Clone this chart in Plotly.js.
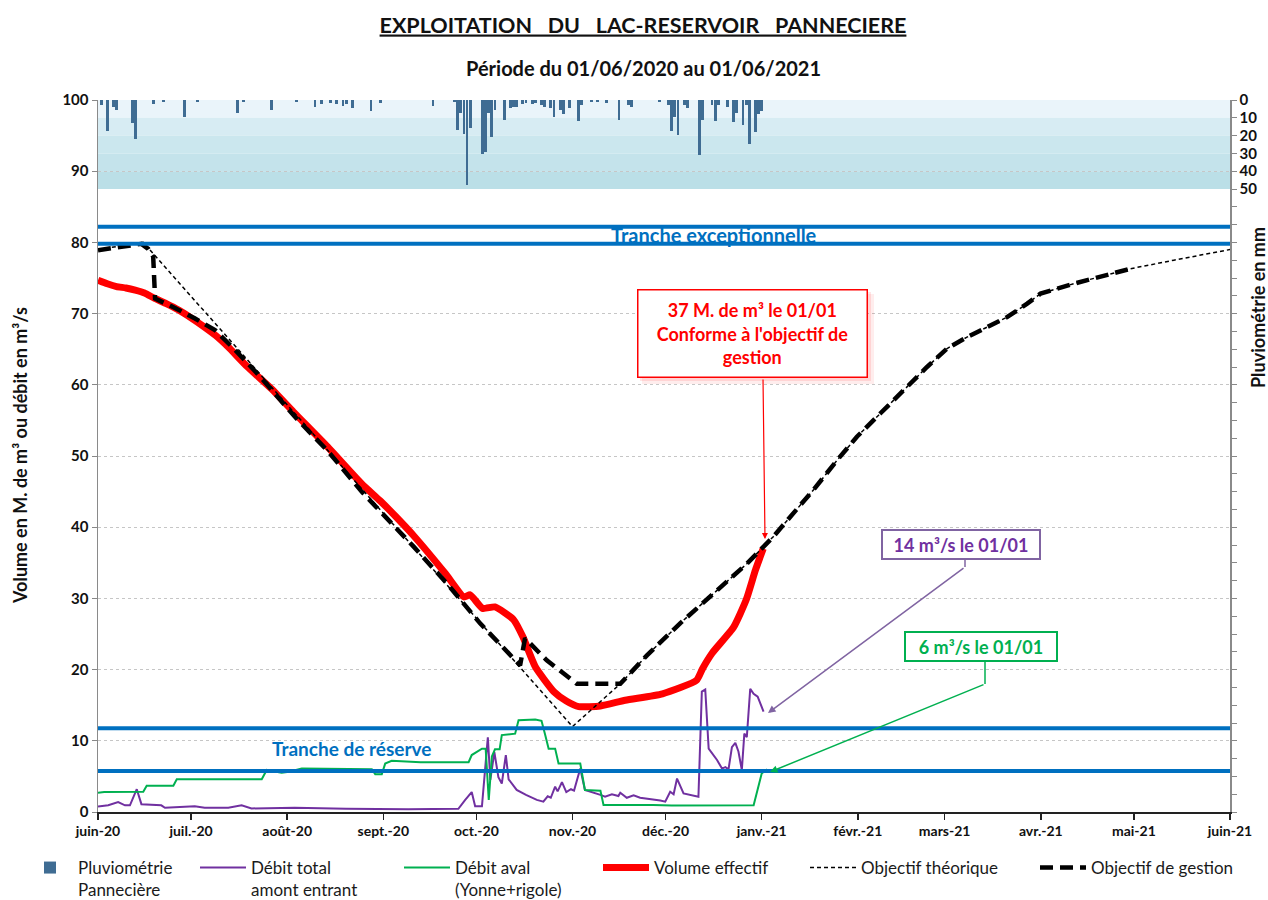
<!DOCTYPE html>
<html>
<head>
<meta charset="utf-8">
<script src="https://cdn.plot.ly/plotly-3.0.1.min.js"></script>
<style>html,body{margin:0;padding:0;background:#fff;}#chart{width:1268px;height:900px;}</style>
</head>
<body>
<div id="chart"></div>
<script>
// ---------- DATA (x = days since 01/06/2020) ----------
const monthTickDays = [0,30,61,92,122,153,183,214,245,273,304,334,365];
const monthLabels = ['juin-20','juil.-20','août-20','sept.-20','oct.-20','nov.-20','déc.-20','janv.-21','févr.-21','mars-21','avr.-21','mai-21','juin-21'];

const rainDays = [1,3,5,6,11,12,18,21,28,32,45,47,56,64,70,72,75,77,79,80,82,88,91,108,
  115,116,117,118,119,120,124,125,126,127,128,131,133,134,135,137,138,140,141,
  143,144,146,147,149,150,152,155,156,159,161,164,168,171,172,181,
  184,185,186,187,189,190,194,195,198,199,200,203,205,206,208,209,210,212,213,214];
const rainMm = [3,17.5,4,5.6,13,22,2,1,9.4,1,7.5,1,5.6,1,3.8,2,1.5,2,3.4,2,4.7,6,1.5,3.4,
  1,17,7.5,19,48,16,30.5,29,7.5,20.7,5.6,11.3,4.7,3.8,3.8,2,1.5,2.5,1.5,
  2.8,3.8,4.7,9.8,5.6,8,4.7,11.7,2.8,1,1,1.5,11.3,2.8,3.8,1,
  2.8,17.3,9.4,19.8,2.8,4.7,31,11.3,2.8,11.7,2.8,3.8,12.2,7.5,14,2.8,24.5,17.8,8,6];

const inflowDays = [0,3.3,6.5,8.7,10.3,12.5,14,20.4,21.6,29,31.2,34.4,42,46.3,49.5,63.4,80,100,116.2,
  118.4,120.5,121.6,123.8,125.7,126.5,127.8,129.1,130.2,131.5,132.4,135,138,141.5,143.6,145,146,
  147.4,148.2,149.6,151,152.5,153.5,155.5,157,160.3,162,163.5,165.7,167.8,168.4,170.5,172.7,174.8,
  177,181.3,182.9,184.5,185.6,186.7,188.8,189.9,193.6,194.7,195.8,196.9,199.6,201.2,202.3,203.3,
  204.4,205.5,206.5,207.6,208.4,209.2,210.3,211.4,212.7,214.6];
const inflowVal = [0.76,0.94,1.4,0.94,0.94,3.2,1.1,0.94,0.6,0.8,0.8,0.6,0.6,0.94,0.5,0.6,0.45,0.4,0.45,
  1.7,2.8,0.8,0.8,10.5,4.5,8.4,4.9,4.0,8.0,4.6,3.1,2.4,1.7,1.45,2.2,2.0,
  3.55,2.9,4.2,2.8,3.2,3.0,6.1,3.1,2.7,2.4,2.15,2.5,2.25,2.7,2.0,2.35,2.0,
  1.9,1.6,1.45,2.85,2.5,4.7,2.6,2.5,2.15,16.9,17.2,8.9,7.3,6.1,6.3,6.0,
  9.1,9.7,8.5,5.9,11.0,10.5,17.3,16.6,16.2,14.1];

const outflowDays = [0,2,14.6,15.7,24.3,25.4,52.8,54.4,59.2,61,65.7,88.3,89.4,91.5,92.6,94.7,104,119.5,
  120.5,123.8,125,126,127,128,129.5,130.2,134.5,135.6,141,143,144.2,145.3,147.4,148.5,155.5,157,
  162,163,179,185,211.4,214,215.7];
const outflowVal = [2.7,2.8,2.85,3.7,3.7,4.6,4.6,5.9,5.5,5.6,6.1,6.0,5.3,5.3,6.8,7.2,7.0,7.0,
  8.0,8.9,8.9,1.7,7.8,8.8,8.8,10.8,11.0,12.9,13.0,12.8,10.8,8.9,8.9,6.8,6.8,3.1,
  3.0,1.0,1.0,0.9,0.95,5.4,6.0];

const volumeDays = [0,3,6,9,12,15,18,22,26,30,34,38,42,48,56,63,74,85,91,96,102,112,118,120,124,128,134,137,141,147,
  151,155,162,170,182,193,195,198,205,209,212,214.5];
const volumeVal = [74.7,74.2,73.8,73.6,73.3,72.9,72.2,71.4,70.5,69.4,68.2,66.9,65.3,62.6,59.4,56.2,51.3,46.1,43.7,41.5,38.7,33.5,30.2,30.5,
  28.6,28.8,27,24.6,20.4,16.9,15.6,14.8,14.9,15.7,16.6,18.5,20.2,22.3,26,29.8,34,37];

const theoDays = [0,14.6,153,168.4,177,187.7,198.5,209.3,217.8,224.3,230.8,238.3,244.7,252.3,261.9,267.3,
  273.8,280.2,286.7,293.1,299.6,303.9,314.6,325.4,332.9,346.9,365];
const theoVal = [79,80,12,18,22,26.5,30.7,34.9,38.7,42.0,45.3,49.4,52.7,56.0,60.2,62.5,
  65.1,66.7,68.1,69.5,71.4,72.8,74.2,75.4,76.3,77.5,79];

const gestionDays = [0,14,16.2,17.8,18.4,24.8,31.3,37.7,44.2,52.8,63.5,74.3,85,91,101.7,112.5,123.2,136.1,
  137.7,144.7,154.4,168.4,177,187.7,198.5,209.3,217.8,224.3,230.8,238.3,244.7,252.3,261.9,267.3,
  273.8,280.2,286.7,293.1,299.6,303.9,314.6,325.4,332.9];
const gestionVal = [78.9,79.8,79.1,78,72.1,70.8,69.3,67.7,64.9,60.9,55.5,50.6,45,42.3,37.3,32.1,26.5,20.6,
  24.4,21.3,18,18,22,26.5,30.7,34.9,38.7,42.0,45.3,49.4,52.7,56.0,60.2,62.5,
  65.1,66.7,68.1,69.5,71.4,72.8,74.2,75.4,76.3];

const trancheLevels = [82.2, 79.8, 11.75, 5.75];
const rainBands = [[0,10,'#eaf4fa'],[10,20,'#d7ecf3'],[20,30,'#cbe7ee'],[30,40,'#c4e3eb'],[40,50,'#bbdfe7']];

// ---------- helpers: page pixel -> paper fraction ----------
const L = 98, T = 100, W = 1132, H = 712;
const px = x => (x - L) / W;
const py = y => (T + H - y) / H;

const FONT = 'Lato, "Open Sans", "Noto Sans", sans-serif';

const traces = [
  {type:'bar', x: rainDays, y: rainMm, yaxis:'y2', name:'Pluviométrie<br>Pannecière', legend:'legend',
   width: 0.9, marker:{color:'#3f6c93', line:{width:0}}},
  {type:'scatter', mode:'lines', x: inflowDays, y: inflowVal, name:'Débit total<br>amont entrant', legend:'legend2',
   line:{color:'#7030A0', width:2}},
  {type:'scatter', mode:'lines', x: outflowDays, y: outflowVal, name:'Débit aval<br>(Yonne+rigole)', legend:'legend3',
   line:{color:'#00B050', width:2}},
  {type:'scatter', mode:'lines', x: volumeDays, y: volumeVal, name:'Volume effectif', legend:'legend4',
   line:{color:'#FF0000', width:7, shape:'spline', smoothing:0.5}},
  {type:'scatter', mode:'lines', x: theoDays, y: theoVal, name:'Objectif théorique', legend:'legend5',
   line:{color:'#000000', width:1.5, dash:'4px,3px'}},
  {type:'scatter', mode:'lines', x: gestionDays, y: gestionVal, name:'Objectif de gestion', legend:'legend6',
   line:{color:'#000000', width:4.5, dash:'13px,7px'}}
];

const shapes = [];
rainBands.forEach(b => shapes.push({type:'rect', xref:'paper', yref:'y2', x0:0, x1:1, y0:b[0], y1:b[1],
  fillcolor:b[2], line:{width:0}, layer:'below'}));
trancheLevels.forEach(v => shapes.push({type:'line', xref:'paper', yref:'y', x0:0, x1:1, y0:v, y1:v,
  line:{color:'#0070C0', width:4}, layer:'above'}));
// soft shadow of the red box
shapes.push({type:'rect', xref:'paper', yref:'paper', x0:px(642), x1:px(874), y0:py(294), y1:py(384),
  fillcolor:'rgba(255,0,0,0.07)', line:{width:0}, layer:'above'});
shapes.push({type:'rect', xref:'paper', yref:'paper', x0:px(640), x1:px(871), y0:py(292), y1:py(381),
  fillcolor:'rgba(255,0,0,0.10)', line:{width:0}, layer:'above'});
// connectors under the small boxes
shapes.push({type:'line', xref:'paper', yref:'paper', x0:px(965), x1:px(965), y0:py(559), y1:py(567),
  line:{color:'#8064A2', width:1.5}});
shapes.push({type:'line', xref:'paper', yref:'paper', x0:px(985), x1:px(985), y0:py(661), y1:py(684),
  line:{color:'#00B050', width:1.5}});

function note(xp, yp, text, size, color, extra) {
  return Object.assign({xref:'paper', yref:'paper', x:px(xp), y:py(yp), xanchor:'center', yanchor:'middle',
    text:text, showarrow:false, font:{family:FONT, size:size, color:color}}, extra || {});
}

const annotations = [
  note(643, 68, '<b>Période du 01/06/2020 au 01/06/2021</b>', 20, '#111'),
  note(20, 456, '<b>Volume en M. de m³ ou débit en m³/s</b>', 18, '#111', {textangle:-90}),
  note(1258, 308, '<b>Pluviométrie en mm</b>', 18, '#111', {textangle:-90}),
  note(714, 235, '<b>Tranche exceptionnelle</b>', 20, '#0070C0'),
  note(351, 748, '<b>Tranche de réserve</b>', 19, '#0070C0'),
  note(752.5, 333.5, '<b>37 M. de m³ le 01/01<br>Conforme à l\'objectif de<br>gestion</b>', 18, '#FF0000',
    {width:226, height:84, bgcolor:'#ffffff', bordercolor:'#FF0000', borderwidth:1.5, borderpad:1}),
  {xref:'paper', yref:'paper', x:px(765), y:py(539), text:'', showarrow:true, ax:-2, ay:-161,
   arrowhead:2, arrowsize:1, arrowwidth:1.2, arrowcolor:'#FF0000', standoff:0},
  note(961, 544, '<b>14 m³/s le 01/01</b>', 18, '#7030A0',
    {width:154, height:25, bgcolor:'#ffffff', bordercolor:'#8064A2', borderwidth:2, borderpad:1}),
  {xref:'paper', yref:'paper', x:px(768), y:py(713), text:'', showarrow:true, ax:197, ay:-146,
   arrowhead:2, arrowsize:1, arrowwidth:1.5, arrowcolor:'#8064A2', standoff:0},
  note(981, 646.5, '<b>6 m³/s le 01/01</b>', 18, '#00B050',
    {width:148, height:25, bgcolor:'#ffffff', bordercolor:'#00B050', borderwidth:2, borderpad:1}),
  {xref:'paper', yref:'paper', x:px(770), y:py(772), text:'', showarrow:true, ax:215, ay:-88,
   arrowhead:2, arrowsize:1, arrowwidth:1.5, arrowcolor:'#00B050', standoff:0}
];

const rightTickVals = [], rightTickText = [];
for (let v = 0; v <= 400; v += 10) { rightTickVals.push(v); rightTickText.push(v <= 50 ? String(v) : ''); }

const legendStarts = [22, 195, 399, 598, 805, 1035];
function leg(xPix) {
  return {orientation:'h', x:px(xPix), xanchor:'left', y:py(850), yanchor:'top', valign:'top',
    itemwidth:46, font:{family:FONT, size:17, color:'#1a1a1a'}, bgcolor:'rgba(0,0,0,0)'};
}

const layout = {
  width:1268, height:900,
  margin:{l:L, r:1268-L-W, t:T, b:900-T-H, pad:0, autoexpand:false},
  paper_bgcolor:'#ffffff', plot_bgcolor:'#ffffff',
  font:{family:FONT, color:'#111'},
  showlegend:true,
  hovermode:false,
  bargap:0,
  title:{text:'<b><u>EXPLOITATION\u00a0\u00a0\u00a0DU\u00a0\u00a0\u00a0LAC-RESERVOIR\u00a0\u00a0\u00a0PANNECIERE</u></b>',
    x:643/1268, xanchor:'center', xref:'container', y:1-25/900, yanchor:'middle', yref:'container',
    font:{family:FONT, size:21.5, color:'#111'}},
  xaxis:{range:[0,365], tickvals:monthTickDays, ticktext:monthLabels, ticks:'outside', ticklen:6,
    tickcolor:'#222', tickwidth:1.5, showline:true, linecolor:'#222', linewidth:1.5, showgrid:false,
    zeroline:false, tickfont:{family:FONT, size:14, color:'#111', weight:'bold'}, fixedrange:true},
  yaxis:{range:[0,100], tickvals:[0,10,20,30,40,50,60,70,80,90,100], ticks:'outside', ticklen:5,
    tickcolor:'#888', showline:true, linecolor:'#8a8a8a', linewidth:1.5, showgrid:true,
    gridcolor:'#c6c6c6', griddash:'dot', gridwidth:1, zeroline:false,
    tickfont:{family:FONT, size:15, color:'#111', weight:'bold'}},
  yaxis2:{overlaying:'y', side:'right', range:[400,0], tickvals:rightTickVals, ticktext:rightTickText,
    ticks:'outside', ticklen:5, tickcolor:'#888', showline:true, linecolor:'#8a8a8a', linewidth:1.5,
    showgrid:false, zeroline:false, tickfont:{family:FONT, size:15, color:'#111', weight:'bold'}},
  legend:leg(legendStarts[0]), legend2:leg(legendStarts[1]), legend3:leg(legendStarts[2]),
  legend4:leg(legendStarts[3]), legend5:leg(legendStarts[4]), legend6:leg(legendStarts[5]),
  shapes:shapes,
  annotations:annotations
};

Plotly.newPlot('chart', traces, layout, {displayModeBar:false, staticPlot:true});
</script>
</body>
</html>
